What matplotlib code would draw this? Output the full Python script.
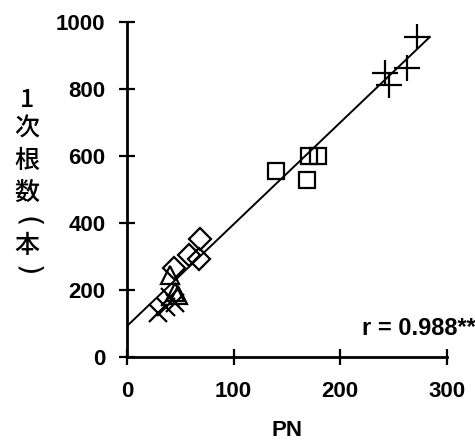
import numpy as np
import matplotlib.pyplot as plt

plt.rcParams['font.family'] = ['Liberation Sans', 'DejaVu Sans']

# PN vs. number of primary roots, one marker per group
plus_x = [272, 242, 263, 246]
plus_y = [955, 848, 863, 812]
sq_x = [140, 169, 171, 179]
sq_y = [555, 528, 600, 600]
dia_x = [69, 58, 68, 44]
dia_y = [352, 304, 293, 266]
tri_x = [40, 45, 48]
tri_y = [245, 195, 185]
cross_x = [29, 37, 45, 40]
cross_y = [131, 150, 160, 178]

# regression line
fit_slope = 3.04
fit_icpt = 92
fit_range = [0, 284]

xticks = [0, 100, 200, 300]
yticks = [0, 200, 400, 600, 800, 1000]
r_text = 'r = 0.988**'

fig = plt.figure(figsize=(4.75, 4.48), dpi=100)
ax = fig.add_axes([0.267, 0.203, 0.674, 0.748])

mk = dict(linestyle='none', color='black', markerfacecolor='none',
          markeredgewidth=1.6)
ax.plot(plus_x, plus_y, marker='+', markersize=19, **mk)
ax.plot(sq_x, sq_y, marker='s', markersize=12, **mk)
ax.plot(dia_x, dia_y, marker='D', markersize=11, **mk)
ax.plot(tri_x, tri_y, marker='^', markersize=13, **mk)
ax.plot(cross_x, cross_y, marker='x', markersize=13, **mk)

lx = np.array(fit_range)
ax.plot(lx, fit_icpt + fit_slope * lx, color='black', linewidth=1.4)

ax.set_xlim(0, 300)
ax.set_ylim(0, 1000)
ax.set_xticks(xticks)
ax.set_yticks(yticks)
for s in ['top', 'right']:
    ax.spines[s].set_visible(False)
for s in ['left', 'bottom']:
    ax.spines[s].set_linewidth(2)
ax.tick_params(direction='inout', length=11, width=1.6, labelsize=16)
ax.tick_params(axis='x', pad=12)
ax.tick_params(axis='y', pad=10)
for lab in ax.get_xticklabels() + ax.get_yticklabels():
    lab.set_fontweight('bold')
ax.set_xlabel('PN', fontsize=16, fontweight='bold', labelpad=13)

# vertical y label, one character per line; brackets turned sideways
jp = ['Noto Sans CJK JP', 'DejaVu Sans']
ylab = ['1', '次', '根', '数', '本']
ylab_y = [100, 129, 161, 193, 246]
for ch, py in zip(ylab, ylab_y):
    fig.text(27 / 475, 1 - py / 448, ch, ha='center', va='center',
             fontsize=18, family=jp, fontweight='medium')
for ch, py in zip(['(', ')'], [222, 271]):
    fig.text(27 / 475, 1 - py / 448, ch, ha='center', va='center',
             fontsize=21, rotation=-90, family='DejaVu Sans')

ax.text(1.09, 0.085, r_text, transform=ax.transAxes, ha='right', va='center',
        fontsize=17, fontweight='bold')

fig.savefig('out.png', dpi=100)
